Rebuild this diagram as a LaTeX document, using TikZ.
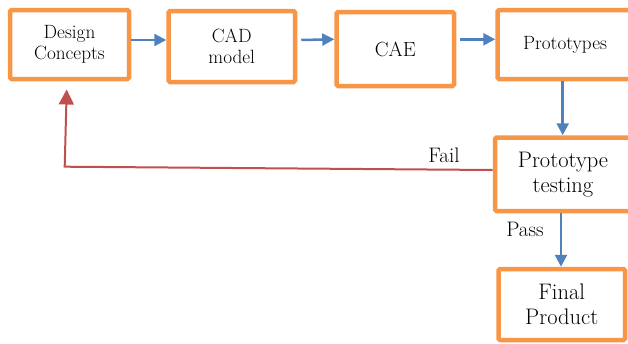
\documentclass[tikz,border=0pt]{standalone}
\usepackage{fontspec}
\setmainfont{Latin Modern Roman}
\usetikzlibrary{arrows.meta}
\definecolor{boxorange}{HTML}{F79646}
\definecolor{flowblue}{HTML}{4F81BD}
\definecolor{failred}{HTML}{C0504D}
\begin{document}
\begin{tikzpicture}[x=1pt,y=-1pt,
  stage/.style={draw=boxorange, line width=4.5pt, rounded corners=1.5pt,
    fill=white, align=center, inner sep=0pt},
  small/.style={font=\fontsize{19.2}{21.5}\selectfont},
  large/.style={font=\fontsize{22.5}{25}\selectfont},
  flow/.style={draw=flowblue, line width=2.5pt,
    -{Triangle[length=12pt,width=12pt]}},
  back/.style={draw=failred, line width=2pt, line join=miter,
    -{Triangle[length=15pt,width=15pt]}},
  lbl/.style={inner sep=0pt, anchor=base, font=\fontsize{21}{24}\selectfont}]
  \useasboundingbox (0,0) rectangle (628,343);

  % process stages
  \node[stage, small, minimum width=119pt, minimum height=69pt]
    (dc) at (69.5,44.5) {Design\\Concepts};
  \node[stage, small, minimum width=126.5pt, minimum height=71pt]
    (cad) at (231.75,46.5) {CAD\\model};
  \node[stage, font=\fontsize{20.5}{24}\selectfont, minimum width=117.5pt, minimum height=74pt]
    (cae) at (395.25,49) {CAE};
  \node[stage, small, minimum width=135pt, minimum height=69pt]
    (proto) at (565,44.5) {Prototypes};
  \node[stage, large, minimum width=136pt, minimum height=73.5pt]
    (pt) at (563,174.25) {Prototype\\testing};
  \node[stage, large, minimum width=126.5pt, minimum height=71pt]
    (fin) at (561.75,304.5) {Final\\Product};

  % reference heights for the horizontal arrows
  \coordinate (r40) at (0,40);
  \coordinate (r39) at (0,39.3);
  \coordinate (v1) at (562.7,0);
  \coordinate (v2) at (561,0);

  \draw[flow] (dc.east |- r40) -- (cad.west |- r40);
  \draw[flow] (cad.east |- r40) ++(4,0) -- (cae.west |- r39);
  \draw[flow] (cae.east |- r39) ++(4,0) -- (proto.west |- r39);
  \draw[flow] (proto.south -| v1) -- (pt.north -| v1);
  \draw[flow] (pt.south -| v2) -- (fin.north -| v2);

  % failure loop back to the start
  \coordinate (fstart) at (492.5,170);
  \coordinate (fcorner) at (64.7,166.7);
  \coordinate (ftip) at (66.7,89.5);
  \draw[back] (fstart) -- (fcorner) -- (ftip);

  \node[lbl] (fail) at (444,162) {Fail};
  \node[lbl] (pass) at (525,236.5) {Pass};
\end{tikzpicture}
\end{document}
